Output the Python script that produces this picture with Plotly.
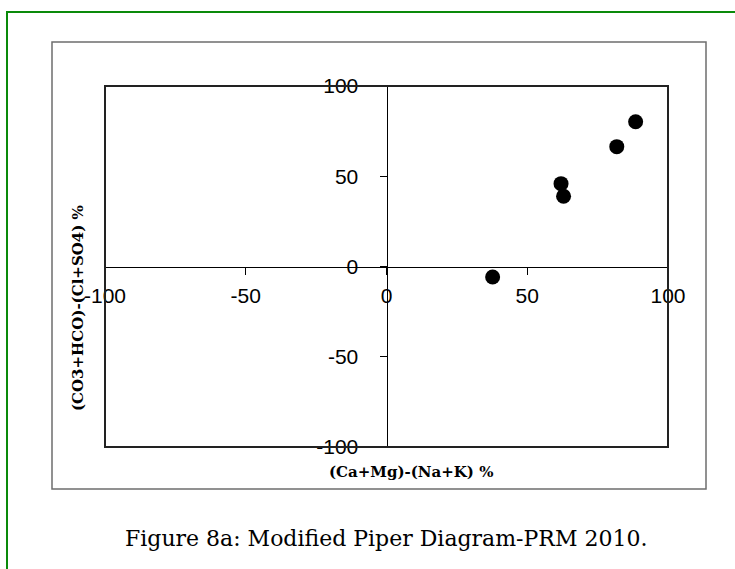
import plotly.graph_objects as go

# Data
x_vals = [88.5, 81.8, 62.0, 62.9, 37.7]
y_vals = [80.2, 66.4, 45.9, 38.9, -5.8]
tick_vals = [-100, -50, 0, 50, 100]
tick_text = ["-100", "-50", "0", "50", "100"]

x_title = "(Ca+Mg)-(Na+K) %"
y_title = "(CO3+HCO)-(Cl+SO4) %"
caption = "Figure 8a: Modified Piper Diagram-PRM 2010."

W, H = 735, 569
L, R, T, B = 105, 668, 86, 447
pw, ph = R - L, B - T


def px(xp):
    return (xp - L) / pw


def py(yp):
    return (B - yp) / ph


fig = go.Figure()
fig.add_trace(go.Scatter(
    x=x_vals, y=y_vals, mode="markers",
    marker=dict(size=15, color="black"),
    showlegend=False, cliponaxis=False,
))

tickfont = dict(family="Liberation Sans, Arial, sans-serif", size=21, color="black")

fig.update_layout(
    width=W, height=H,
    margin=dict(l=L, r=W - R, t=T, b=H - B),
    paper_bgcolor="white", plot_bgcolor="white",
    xaxis=dict(
        range=[-100, 100], anchor="free", position=0.5,
        showline=True, linecolor="black", linewidth=1,
        ticks="outside", ticklen=7, tickcolor="black", tickwidth=1,
        tickvals=tick_vals, ticktext=tick_text, tickfont=tickfont,
        showgrid=False, zeroline=False, ticklabelstandoff=3,
    ),
    yaxis=dict(
        range=[-100, 100], anchor="free", position=0.5,
        showline=True, linecolor="black", linewidth=1,
        ticks="outside", ticklen=7, tickcolor="black", tickwidth=1,
        tickvals=tick_vals, ticktext=tick_text, tickfont=tickfont,
        showgrid=False, zeroline=False, ticklabelstandoff=17,
    ),
    shapes=[
        # green outer frame
        dict(type="rect", xref="paper", yref="paper",
             x0=px(7), x1=px(760), y0=py(600), y1=py(12),
             line=dict(color="#0a8a0a", width=2), layer="below"),
        # chart area frame
        dict(type="rect", xref="paper", yref="paper",
             x0=px(52), x1=px(706), y0=py(489), y1=py(42),
             line=dict(color="#6e6e6e", width=1.5), layer="below"),
        # plot area border
        dict(type="rect", xref="paper", yref="paper",
             x0=0, x1=1, y0=0, y1=1,
             line=dict(color="#222222", width=2), layer="above"),
    ],
    annotations=[
        dict(text="<b>" + x_title + "</b>", xref="paper", yref="paper",
             x=px(411), y=py(472), xanchor="center", yanchor="middle",
             showarrow=False,
             font=dict(family="DejaVu Serif, serif", size=15, color="black")),
        dict(text="<b>" + y_title + "</b>", xref="paper", yref="paper",
             x=px(78), y=py(308), xanchor="center", yanchor="middle",
             showarrow=False, textangle=-90,
             font=dict(family="DejaVu Serif, serif", size=15, color="black")),
        dict(text=caption, xref="paper", yref="paper",
             x=px(386), y=py(538), xanchor="center", yanchor="middle",
             showarrow=False,
             font=dict(family="DejaVu Serif, serif", size=22, color="black")),
    ],
)

fig.write_html("out.html")
